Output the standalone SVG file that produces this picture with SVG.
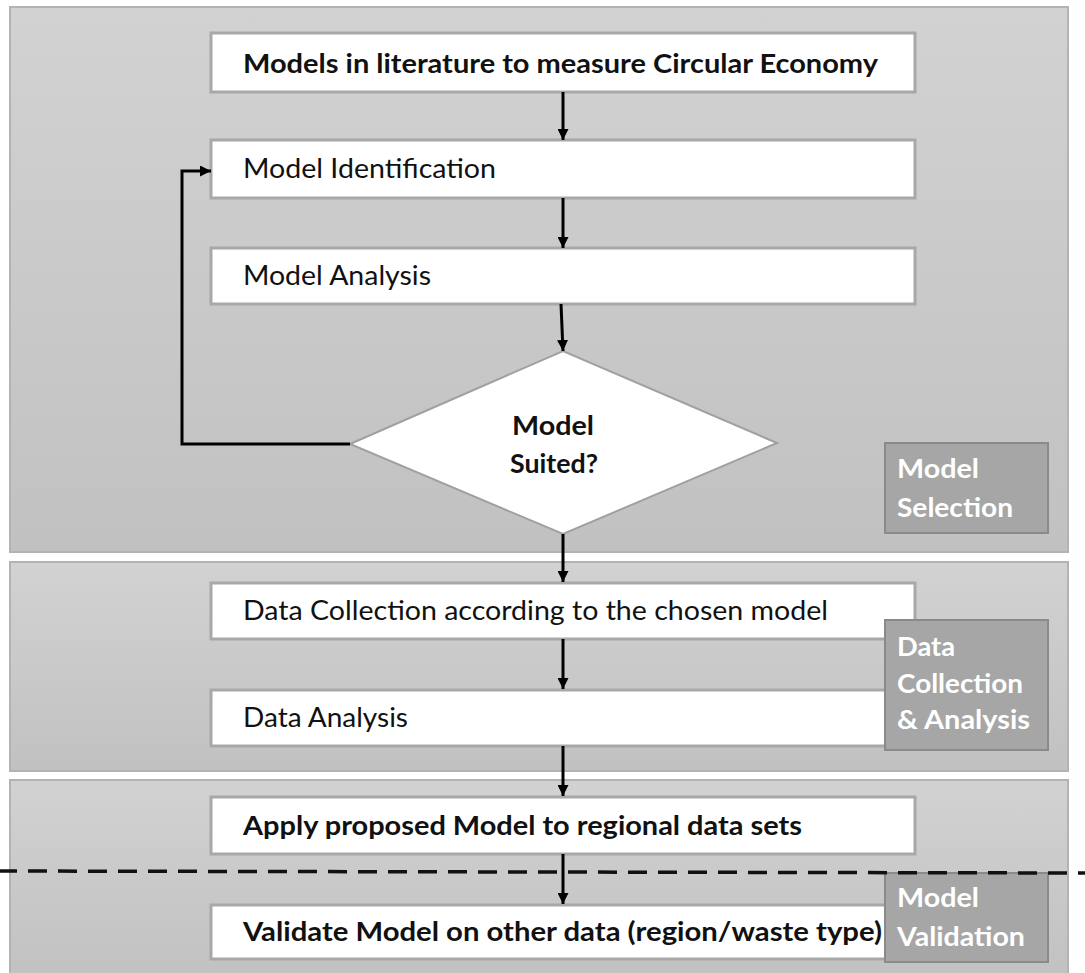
<svg xmlns="http://www.w3.org/2000/svg" width="1085" height="973" viewBox="0 0 1085 973">
<defs>
<linearGradient id="secGrad" x1="0" y1="0" x2="0" y2="1">
<stop offset="0" stop-color="#d2d2d2"/>
<stop offset="1" stop-color="#c1c1c1"/>
</linearGradient>
<marker id="ah" viewBox="0 0 10 10" refX="10" refY="5" markerWidth="11" markerHeight="11" markerUnits="userSpaceOnUse" orient="auto">
<path d="M0,0 L10,5 L0,10 z" fill="#000"/>
</marker>
</defs>
<style>
.sec{fill:url(#secGrad);stroke:#b3b3b3;stroke-width:2}
.box{fill:#fff;stroke:#a8a8a8;stroke-width:3}
.lab{fill:#a6a6a6;stroke:#8a8a8a;stroke-width:2}
.t{font-family:Lato,"Open Sans","Liberation Sans",sans-serif;font-size:26px;fill:#111}
.b{font-weight:bold}
.w{font-family:Lato,"Open Sans","Liberation Sans",sans-serif;font-size:26px;font-weight:bold;fill:#fff}
.c{fill:none;stroke:#000;stroke-width:3}
</style>
<rect width="1085" height="973" fill="#fff"/>
<g id="sections">
<rect class="sec" x="10" y="7" width="1058" height="545"/>
<rect class="sec" x="10" y="562" width="1058" height="209"/>
<rect class="sec" x="10" y="780" width="1058" height="200"/>
</g>
<g id="n1"><rect class="box" x="211" y="33" width="704" height="59"/><text class="t b" x="243" y="73" textLength="635" lengthAdjust="spacingAndGlyphs">Models in literature to measure Circular Economy</text></g>
<g id="n2"><rect class="box" x="211" y="140" width="704" height="58"/><text class="t" x="243" y="178" textLength="253" lengthAdjust="spacingAndGlyphs">Model Identification</text></g>
<g id="n3"><rect class="box" x="211" y="248" width="704" height="56"/><text class="t" x="243" y="285" textLength="188" lengthAdjust="spacingAndGlyphs">Model Analysis</text></g>
<g id="n4"><polygon points="350,444 563,351 777,443 563,534" fill="#fff" stroke="#a0a0a0" stroke-width="2"/><text class="t b" x="512" y="435" textLength="82" lengthAdjust="spacingAndGlyphs">Model</text><text class="t b" x="510" y="473" textLength="88" lengthAdjust="spacingAndGlyphs">Suited?</text></g>
<g id="n5"><rect class="box" x="211" y="583" width="704" height="56"/><text class="t" x="243" y="620" textLength="585" lengthAdjust="spacingAndGlyphs">Data Collection according to the chosen model</text></g>
<g id="n6"><rect class="box" x="211" y="690" width="704" height="56"/><text class="t" x="243" y="727" textLength="165" lengthAdjust="spacingAndGlyphs">Data Analysis</text></g>
<g id="n7"><rect class="box" x="211" y="797" width="704" height="57"/><text class="t b" x="243" y="835" textLength="559" lengthAdjust="spacingAndGlyphs">Apply proposed Model to regional data sets</text></g>
<g id="n8"><rect class="box" x="211" y="905" width="704" height="54"/><text class="t b" x="243" y="941" textLength="639" lengthAdjust="spacingAndGlyphs">Validate Model on other data (region/waste type)</text></g>
<g id="lab1"><rect class="lab" x="885" y="443" width="163" height="90"/><text class="w" x="897" y="478" textLength="82" lengthAdjust="spacingAndGlyphs">Model</text><text class="w" x="897" y="517" textLength="116" lengthAdjust="spacingAndGlyphs">Selection</text></g>
<g id="lab2"><rect class="lab" x="885" y="620" width="163" height="130"/><text class="w" x="897" y="656" textLength="58" lengthAdjust="spacingAndGlyphs">Data</text><text class="w" x="897" y="693" textLength="126" lengthAdjust="spacingAndGlyphs">Collection</text><text class="w" x="897" y="729" textLength="133" lengthAdjust="spacingAndGlyphs">&amp; Analysis</text></g>
<g id="lab3"><rect class="lab" x="885" y="873" width="163" height="89"/><text class="w" x="897" y="907" textLength="82" lengthAdjust="spacingAndGlyphs">Model</text><text class="w" x="897" y="946" textLength="128" lengthAdjust="spacingAndGlyphs">Validation</text></g>
<g id="connectors">
<line class="c" x1="563" y1="92" x2="563" y2="140" marker-end="url(#ah)"/>
<line class="c" x1="563" y1="198" x2="563" y2="248" marker-end="url(#ah)"/>
<line class="c" x1="561" y1="304" x2="563" y2="351" marker-end="url(#ah)"/>
<polyline class="c" points="350,444 182,444 182,171 211,171" marker-end="url(#ah)"/>
<line class="c" x1="563" y1="534" x2="563" y2="582" marker-end="url(#ah)"/>
<line class="c" x1="563" y1="639" x2="563" y2="689" marker-end="url(#ah)"/>
<line class="c" x1="563" y1="746" x2="563" y2="796" marker-end="url(#ah)"/>
<line class="c" x1="563" y1="854" x2="563" y2="904" marker-end="url(#ah)"/>
<line x1="0" y1="871" x2="1085" y2="873" stroke="#111" stroke-width="3.5" stroke-dasharray="19 11" stroke-dashoffset="2"/>
</g>
</svg>
